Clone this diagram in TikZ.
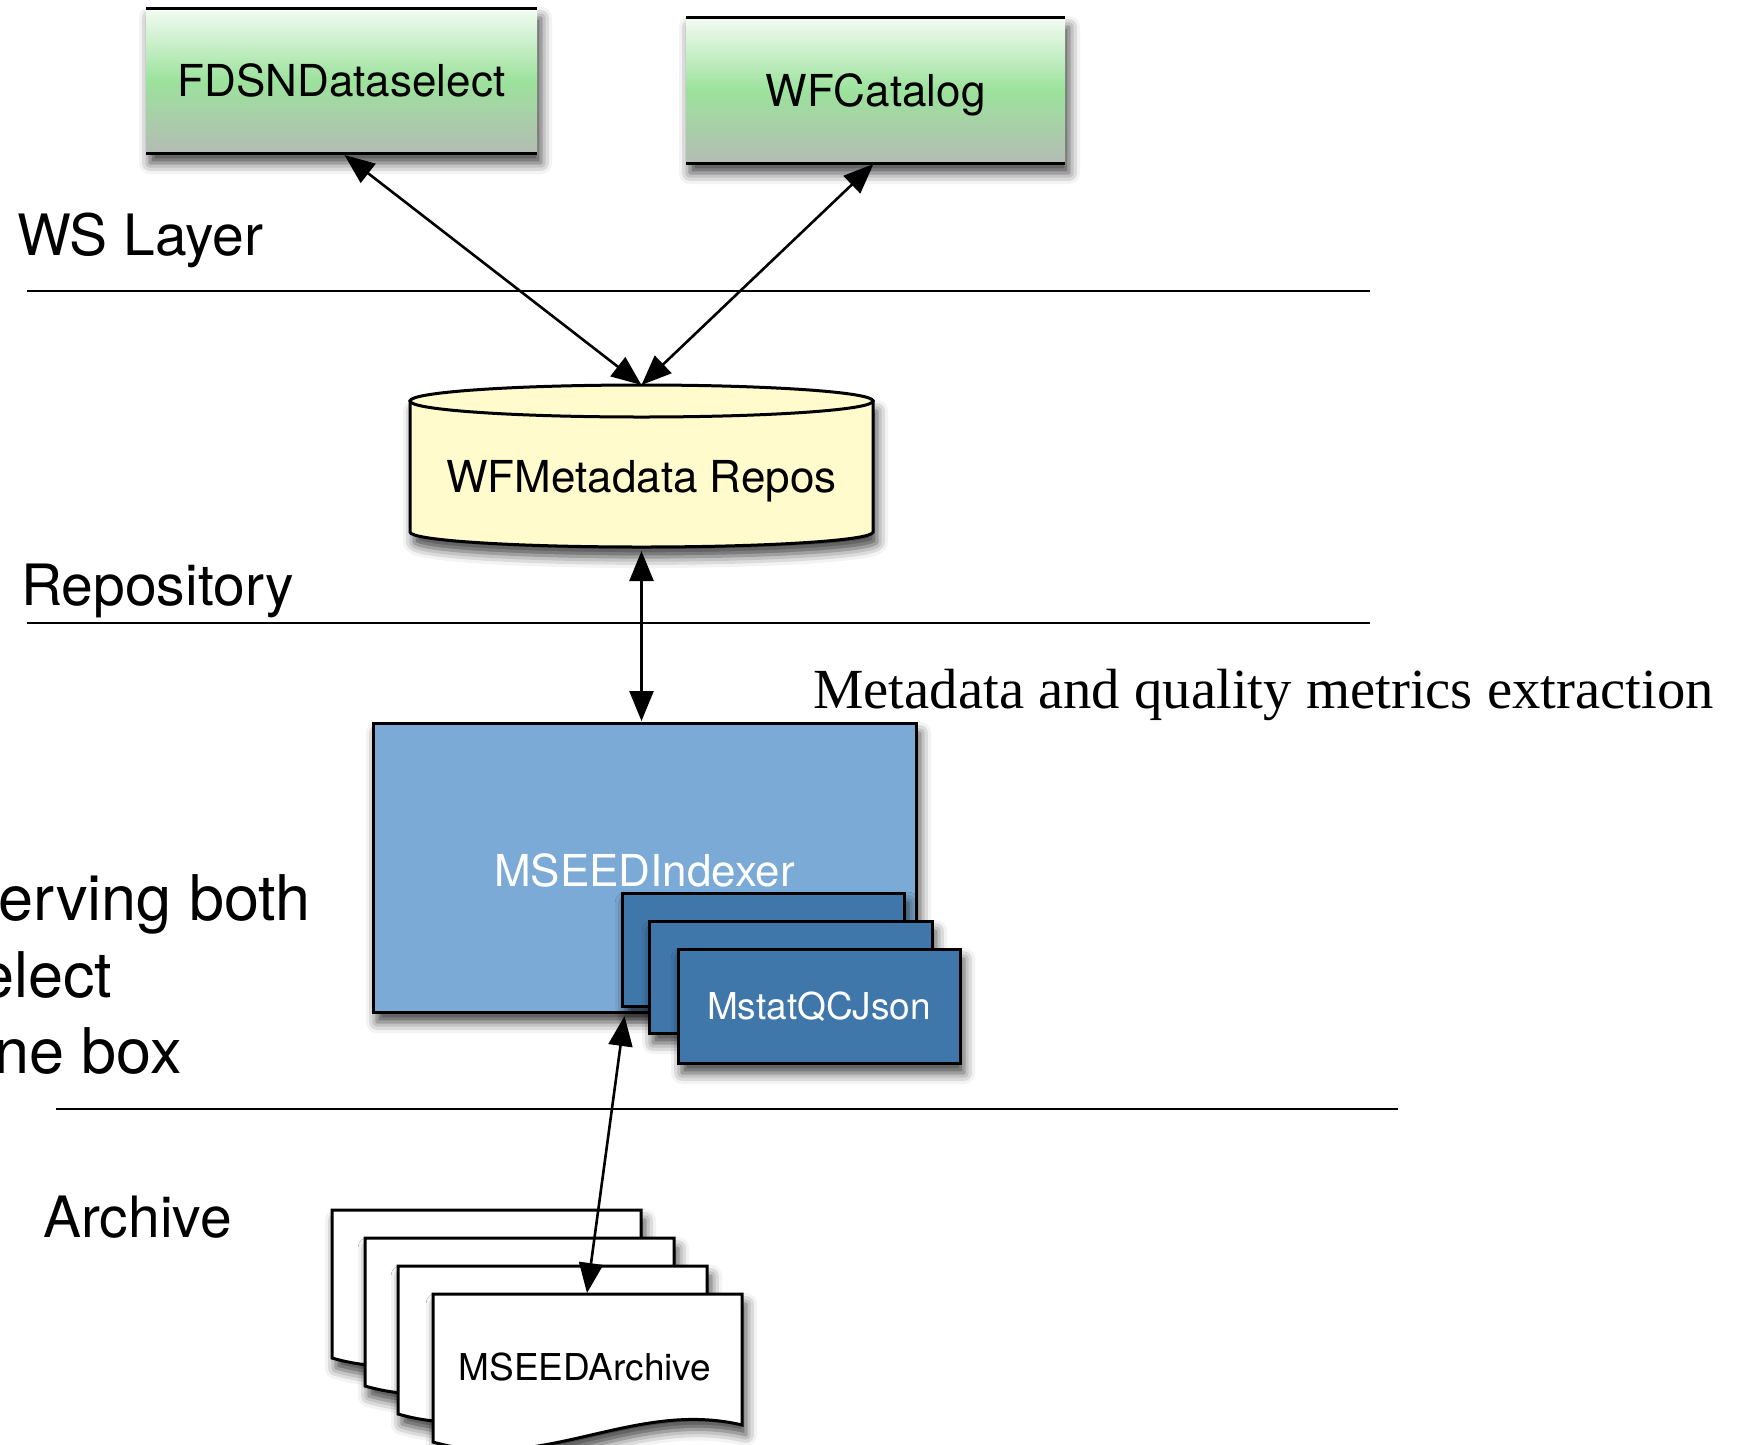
\documentclass[tikz,border=0pt]{standalone}
\usepackage{fontspec}
\setmainfont{TeX Gyre Heros}
\newfontfamily\tmsfont{Liberation Serif}
\usetikzlibrary{arrows.meta,shadows.blur}
\definecolor{gtop}{RGB}{244,252,244}
\definecolor{gmid}{RGB}{156,226,156}
\definecolor{gbot}{RGB}{180,188,180}
\definecolor{cylfill}{RGB}{255,251,204}
\definecolor{idxfill}{RGB}{122,170,213}
\definecolor{qcfill}{RGB}{63,119,170}
\tikzset{
  fsA/.style={font=\fontsize{44}{53}\selectfont, text depth=0pt},
  fsB/.style={font=\fontsize{37}{44}\selectfont, text depth=0pt},
  fsL/.style={font=\fontsize{57}{68}\selectfont, inner sep=0pt, anchor=base west},
  fsS/.style={font=\fontsize{63}{77}\selectfont, inner sep=0pt, anchor=base west},
  myshadow/.style={blur shadow={shadow xshift=4pt, shadow yshift=-10pt, shadow blur radius=11pt, shadow opacity=75}},
  greenbox/.style={fsA, inner sep=0pt, outer sep=0pt, top color=gtop, bottom color=gbot, middle color=gmid, myshadow},
  thickline/.style={line width=3pt},
  layerline/.style={line width=2.6pt},
  bluebox/.style={draw=black, line width=3pt, inner sep=0pt, outer sep=0pt, text=white, myshadow},
  docshape/.style={draw=black, fill=white, line width=3pt, myshadow},
  biarrow/.style={line width=2.6pt, draw=black, {Triangle[length=30pt,width=24pt,fill=black]}-{Triangle[length=30pt,width=24pt,fill=black]}},
}
\newcommand{\archdoc}[2]{%
  \begin{scope}[shift={(#1,#2)}]
    \path[docshape] (0,0) -- (309,0) -- (309,131) .. controls (200,105) and (110,180) .. (0,148) -- cycle;
  \end{scope}}
\begin{document}
\begin{tikzpicture}[x=1pt,y=-1pt]
\useasboundingbox (0,0) rectangle (1742,1444);

% layer lines
\draw[layerline] (27,291) coordinate (l1a) -- (1370,291) coordinate (l1b);
\draw[layerline] (27,623) coordinate (l2a) -- (1370,623) coordinate (l2b);
\draw[layerline] (56,1109) coordinate (l3a) -- (1398,1109) coordinate (l3b);

% layer labels
\node[fsL] (wslayer) at (17,255) {WS Layer};
\node[fsL] (repolabel) at (21,605) {Repository};
\node[fsL] (archlabel) at (43,1237) {Archive};
\node[font=\tmsfont\fontsize{56.7}{68}\selectfont, inner sep=0pt, anchor=base west] (metalabel) at (813,708) {Metadata and quality metrics extraction};
\node[fsS] (side1) at (-2,920) {erving both};
\node[fsS] (side2) at (-21,997) {elect};
\node[fsS] (side3) at (-6,1073) {ne box};

% WS boxes
\node[greenbox, minimum width=391pt, minimum height=145pt] (fdsn) at (341.5,80.5) {FDSNDataselect};
\draw[thickline] (fdsn.north west) -- (fdsn.north east);
\draw[thickline] (fdsn.south west) -- (fdsn.south east);
\node[greenbox, minimum width=379pt, minimum height=146pt] (wfc) at (875.5,90) {WFCatalog};
\draw[thickline] (wfc.north west) -- (wfc.north east);
\draw[thickline] (wfc.south west) -- (wfc.south east);

% cylinder
\path[fill=cylfill, draw=black, line width=3pt, myshadow]
  (410,401) -- (410,532)
  .. controls (410,540.3) and (513.1,547) .. (641.5,547)
  .. controls (769.9,547) and (873,540.3) .. (873,532)
  -- (873,401) -- cycle;
\draw[fill=cylfill, line width=3pt] (641.5,401) ellipse [x radius=231.5, y radius=16];
\coordinate (cyltop) at (641.5,385);
\coordinate (cylbot) at (641.5,551);
\node[fsA] (cyltext) at (641.5,476) {WFMetadata Repos};

% indexer
\node[bluebox, fill=idxfill, fsA, minimum width=543pt, minimum height=289pt] (idx) at (644.5,867.5) {};
\node[fsA, text=white] (idxtext) at (644.5,870) {MSEEDIndexer};
\node[bluebox, fill=qcfill, minimum width=282pt, minimum height=113pt] (q1) at (763,949.5) {};
\node[bluebox, fill=qcfill, minimum width=283pt, minimum height=112pt] (q2) at (790.5,977) {};
\node[bluebox, fill=qcfill, fsB, minimum width=282pt, minimum height=114pt] (q3) at (819,1006) {MstatQCJson};

% archive documents
\archdoc{332}{1210}
\archdoc{365}{1238}
\archdoc{398}{1266}
\archdoc{433}{1294}
\coordinate (archtop) at (587,1293);
\node[fsB] (archtext) at (585,1367) {MSEEDArchive};

% connectors
\draw[biarrow] ([xshift=3pt,yshift=-2pt]fdsn.south) -- (cyltop);
\draw[biarrow] ([xshift=-2pt,yshift=-1pt]wfc.south) -- (cyltop);
\draw[biarrow] (cylbot) -- ([yshift=2pt]cylbot |- idx.north);
\draw[biarrow] ([xshift=-20pt,yshift=-4pt]idx.south) -- (archtop);
\end{tikzpicture}
\end{document}
